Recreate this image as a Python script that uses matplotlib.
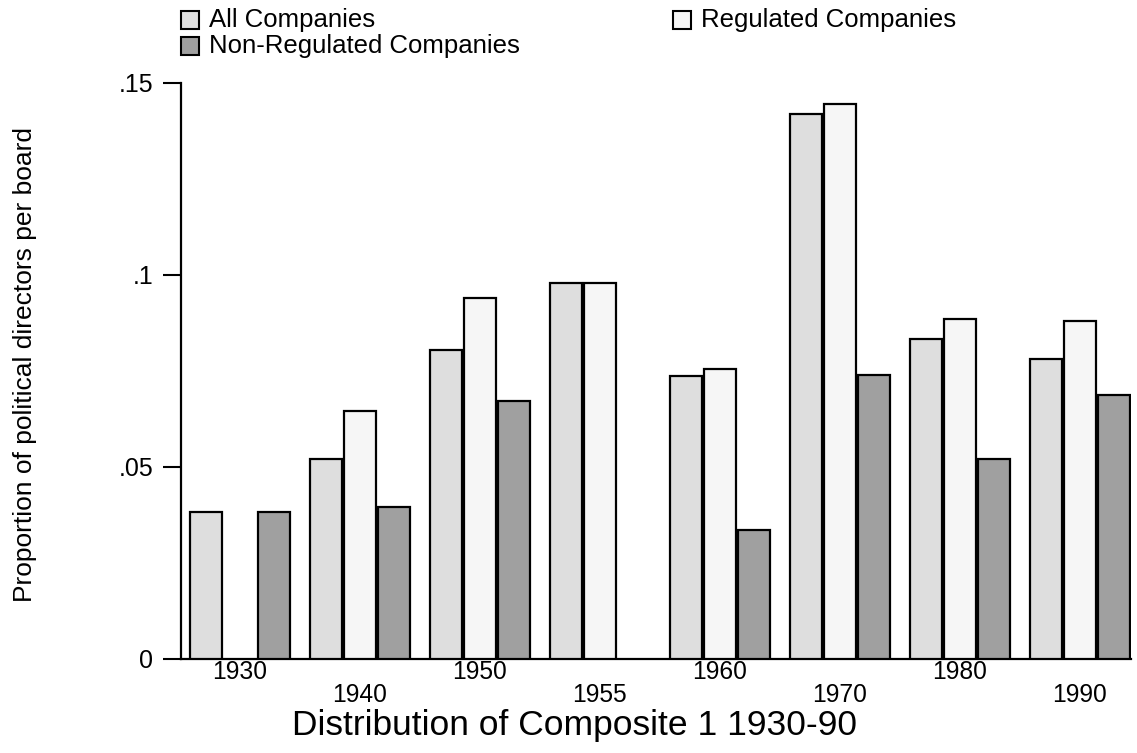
import numpy as np
import matplotlib
matplotlib.use("Agg")
import matplotlib.pyplot as plt
from matplotlib.patches import Rectangle

years = ["1930", "1940", "1950", "1955", "1960", "1970", "1980", "1990"]
series_names = ["All Companies", "Regulated Companies", "Non-Regulated Companies"]
all_companies = [0.0384, 0.0520, 0.0805, 0.0980, 0.0736, 0.1418, 0.0834, 0.0781]
regulated = [np.nan, 0.0646, 0.0940, 0.0980, 0.0755, 0.1445, 0.0885, 0.0880]
non_regulated = [0.0384, 0.0396, 0.0672, np.nan, 0.0336, 0.0739, 0.0520, 0.0687]
colors = ["#dedede", "#f6f6f6", "#a0a0a0"]
yticks = [0, 0.05, 0.10, 0.15]
yticklabels = ["0", ".05", ".1", ".15"]

plt.rcParams['font.family'] = ['Liberation Sans', 'DejaVu Sans']

W, H = 1137, 753
fig = plt.figure(figsize=(W / 100, H / 100), dpi=100)
ax = fig.add_axes([181 / W, (H - 659) / H, (1131 - 181) / W, (659 - 83) / H])

x = np.arange(len(years))
step = 34 / 120
bw = 32 / 120
for i, (vals, c) in enumerate(zip([all_companies, regulated, non_regulated], colors)):
    ax.bar(x + (i - 1) * step, vals, width=bw, color=c, edgecolor="black",
           linewidth=1.6, zorder=3)

ax.set_xlim(-0.49, 7.425)
ax.set_ylim(0, 0.15)

for s in ["top", "right"]:
    ax.spines[s].set_visible(False)
ax.spines["left"].set_linewidth(1.6)
ax.spines["bottom"].set_linewidth(1.6)

ax.set_yticks(yticks)
ax.set_yticklabels(yticklabels)
ax.tick_params(axis="y", direction="out", length=13, width=1.5, pad=7, labelsize=18)

ax.set_xticks(x)
labs = [y if i % 2 == 0 else "\n" + y for i, y in enumerate(years)]
ax.set_xticklabels(labs)
ax.tick_params(axis="x", length=0, pad=1.0, labelsize=17.7)
for t in ax.get_xticklabels():
    t.set_linespacing(0.95)

fig.text(25 / W, 1 - 364 / H, "Proportion of political directors per board",
         rotation=90, ha="center", va="center", fontsize=19)
fig.text(575 / W, 1 - 726 / H, "Distribution of Composite 1 1930-90",
         ha="center", va="center", fontsize=25.5)

# legend
leg_pos = [(181, 11), (673, 11), (181, 37)]
for (lx, ly), name, c in zip(leg_pos, series_names, colors):
    fig.patches.append(Rectangle((lx / W, 1 - (ly + 18) / H), 18 / W, 18 / H,
                                 transform=fig.transFigure, facecolor=c,
                                 edgecolor="black", linewidth=1.5))
    fig.text((lx + 28) / W, 1 - (ly + 9.5) / H, name, ha="left", va="center",
             fontsize=18.5)

fig.savefig("out.png", dpi=100)
